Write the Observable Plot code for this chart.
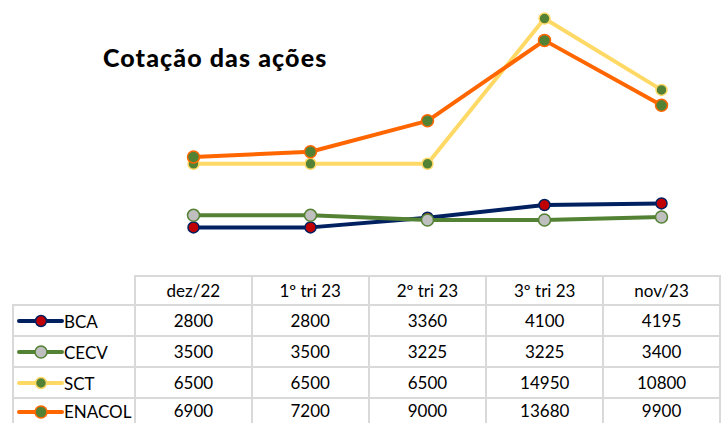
<!DOCTYPE html>
<html>
<head>
<meta charset="utf-8">
<script src="https://cdn.jsdelivr.net/npm/d3@7"></script>
<script src="https://cdn.jsdelivr.net/npm/@observablehq/plot@0.6"></script>
<style>
  html, body { margin: 0; padding: 0; background: #fff; }
  #wrap { position: relative; width: 721px; height: 423px; overflow: hidden; font-family: Lato, "Noto Sans", sans-serif; }
  #title { position: absolute; left: 103px; top: 42px; font-family: Lato, sans-serif; font-weight: 900; font-size: 25px; color: #000; letter-spacing: 1.1px; white-space: nowrap; }
  #chart { position: absolute; left: 0; top: 0; }
  table { position: absolute; left: 12px; top: 275px; border-collapse: collapse; font-size: 17px; line-height: 20px; color: #000; table-layout: fixed; }
  td { border: 2px solid #D9D9D9; text-align: center; padding: 0; height: 29px; }
  tr.head td { height: 27px; }
  tr.last td { height: 24px; border-bottom: none; }
  td.empty { border-top: none; border-left: none; }
  td.key { text-align: left; white-space: nowrap; }
  td.key svg { vertical-align: middle; margin-left: 3px; margin-right: 0px; }
  td.key span { vertical-align: middle; }
</style>
</head>
<body>
<div id="wrap">
  <div id="chart"></div>
  <div id="title">Cotação das ações</div>
</div>
<script>
const periods = ["dez/22", "1º tri 23", "2º tri 23", "3º tri 23", "nov/23"];
const seriesNames = ["BCA", "CECV", "SCT", "ENACOL"];
const BCA = [2800, 2800, 3360, 4100, 4195];
const CECV = [3500, 3500, 3225, 3225, 3400];
const SCT = [6500, 6500, 6500, 14950, 10800];
const ENACOL = [6900, 7200, 9000, 13680, 9900];
const seriesValues = [BCA, CECV, SCT, ENACOL];

const styles = {
  BCA:    {line: "#002060", fill: "#C00000", r: 5.5},
  CECV:   {line: "#548235", fill: "#BFBFBF", r: 6},
  SCT:    {line: "#FFD966", fill: "#548235", r: 5.5},
  ENACOL: {line: "#FF6600", fill: "#548235", r: 6}
};

const data = [];
seriesNames.forEach((s, i) => periods.forEach((p, j) => data.push({series: s, period: p, value: seriesValues[i][j]})));

const marks = [];
seriesNames.forEach(s => {
  const d = data.filter(r => r.series === s);
  marks.push(Plot.line(d, {x: "period", y: "value", stroke: styles[s].line, strokeWidth: 4, strokeLinejoin: "round", strokeLinecap: "round"}));
});
seriesNames.forEach(s => {
  const d = data.filter(r => r.series === s);
  marks.push(Plot.dot(d, {x: "period", y: "value", r: styles[s].r, fill: styles[s].fill, stroke: styles[s].line, strokeWidth: 1.5}));
});

const plot = Plot.plot({
  width: 721,
  height: 276,
  marginLeft: 134,
  marginRight: 1,
  marginTop: 0,
  marginBottom: 1,
  x: {type: "point", domain: periods, padding: 0.5, axis: null},
  y: {domain: [0, 16000], axis: null},
  marks
});
document.getElementById("chart").appendChild(plot);

// data table
const table = d3.select("#wrap").append("table");
const cg = table.append("colgroup");
[122, 117, 117, 118, 117, 117].forEach(w => cg.append("col").style("width", w + "px"));
const head = table.append("tr").attr("class", "head");
head.append("td").attr("class", "empty");
periods.forEach(p => head.append("td").text(p));
seriesNames.forEach((s, i) => {
  const tr = table.append("tr").attr("class", i === seriesNames.length - 1 ? "last" : null);
  const k = tr.append("td").attr("class", "key");
  const svg = k.append("svg").attr("width", 47).attr("height", 14);
  svg.append("line").attr("x1", 2).attr("x2", 45).attr("y1", 7).attr("y2", 7)
    .attr("stroke", styles[s].line).attr("stroke-width", 4).attr("stroke-linecap", "round");
  svg.append("circle").attr("cx", 24).attr("cy", 7).attr("r", styles[s].r)
    .attr("fill", styles[s].fill).attr("stroke", styles[s].line).attr("stroke-width", 1.5);
  k.append("span").text(s);
  seriesValues[i].forEach(v => tr.append("td").text(v));
});
</script>
</body>
</html>
